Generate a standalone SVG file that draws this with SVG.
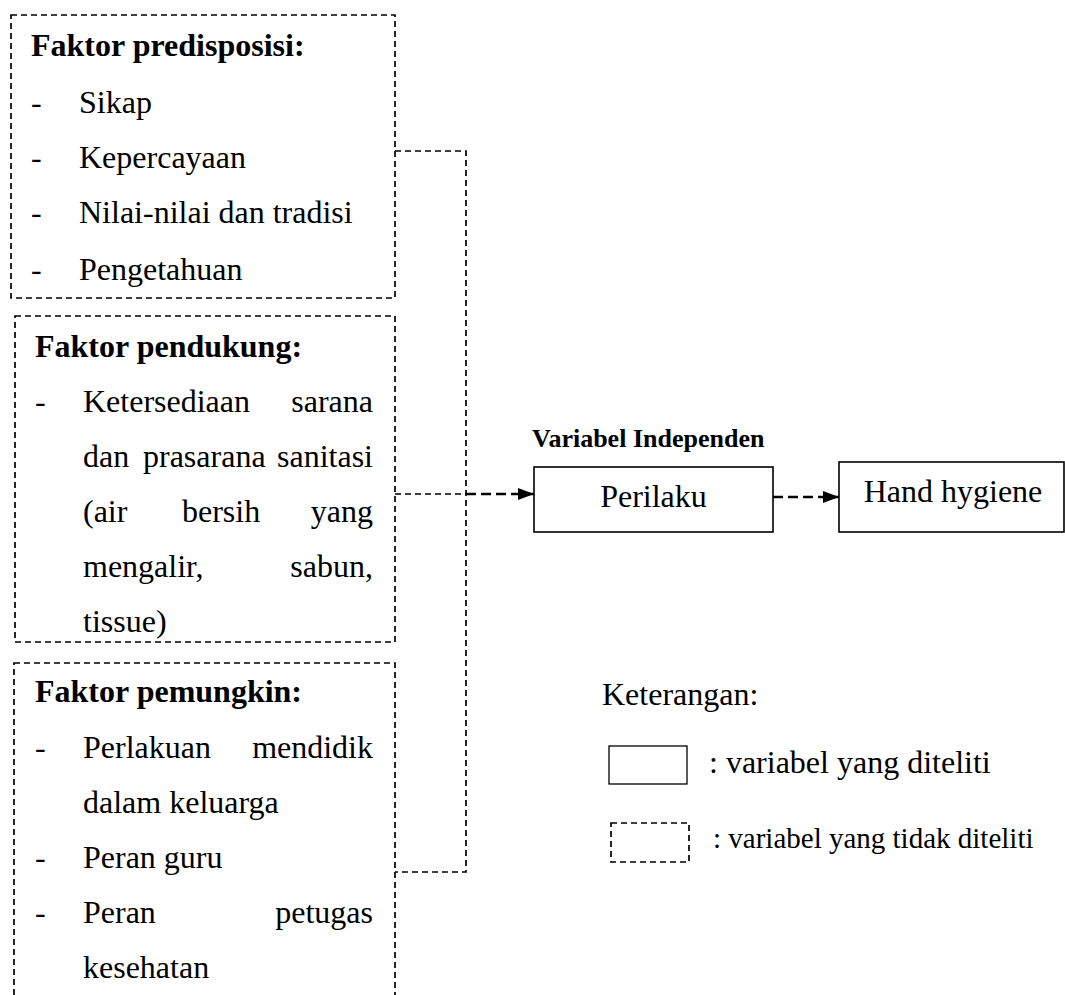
<svg xmlns="http://www.w3.org/2000/svg" width="1065" height="995" viewBox="0 0 1065 995">
<style>
text{font-family:"Liberation Serif","Times New Roman",serif;fill:#000}
.t{font-size:32px}
.h{font-size:32px;font-weight:bold}
.dbox{fill:none;stroke:#000;stroke-width:1.7;stroke-dasharray:6 4}
.sbox{fill:#fff;stroke:#000;stroke-width:1.6}
.thin{fill:none;stroke:#000;stroke-width:1.7;stroke-dasharray:6 4}
.thick{fill:none;stroke:#000;stroke-width:2.4;stroke-dasharray:10 5}
</style>
<defs>
<marker id="ah" viewBox="0 0 16 12" refX="16" refY="6" markerWidth="16" markerHeight="12" markerUnits="userSpaceOnUse" orient="auto">
<path d="M0,0 L16,6 L0,12 Z" fill="#000"/>
</marker>
</defs>
<rect width="1065" height="995" fill="#fff"/>
<g id="connectors">
<path class="thin" d="M395,151 H466 V872 H395"/>
<path class="thin" d="M395,494 H466"/>
<path class="thick" d="M466,494 H534" marker-end="url(#ah)"/>
<path class="thick" d="M773,497 H839" marker-end="url(#ah)"/>
</g>
<g id="faktor-predisposisi">
<rect class="dbox" x="11" y="15" width="384" height="283"/>
<text class="h" x="31" y="56">Faktor predisposisi:</text>
<text class="t" x="31" y="113">-</text><text class="t" x="79" y="113">Sikap</text>
<text class="t" x="31" y="168">-</text><text class="t" x="79" y="168">Kepercayaan</text>
<text class="t" x="31" y="223">-</text><text class="t" x="79" y="223">Nilai-nilai dan tradisi</text>
<text class="t" x="31" y="280">-</text><text class="t" x="79" y="280">Pengetahuan</text>
</g>
<g id="faktor-pendukung">
<rect class="dbox" x="15" y="316" width="380" height="326"/>
<text class="h" x="35" y="357">Faktor pendukung:</text>
<text class="t" x="35" y="412">-</text>
<text class="t" x="83" y="412">Ketersediaan</text><text class="t" x="373" y="412" text-anchor="end">sarana</text>
<text class="t" x="83" y="467">dan</text><text class="t" x="143" y="467">prasarana</text><text class="t" x="373" y="467" text-anchor="end">sanitasi</text>
<text class="t" x="83" y="522">(air</text><text class="t" x="182" y="522">bersih</text><text class="t" x="373" y="522" text-anchor="end">yang</text>
<text class="t" x="83" y="577">mengalir,</text><text class="t" x="373" y="577" text-anchor="end">sabun,</text>
<text class="t" x="83" y="632">tissue)</text>
</g>
<g id="faktor-pemungkin">
<rect class="dbox" x="14" y="663" width="381" height="345"/>
<text class="h" x="35" y="702">Faktor pemungkin:</text>
<text class="t" x="35" y="758">-</text>
<text class="t" x="83" y="758">Perlakuan</text><text class="t" x="373" y="758" text-anchor="end">mendidik</text>
<text class="t" x="83" y="813">dalam keluarga</text>
<text class="t" x="35" y="868">-</text><text class="t" x="83" y="868">Peran guru</text>
<text class="t" x="35" y="923">-</text>
<text class="t" x="83" y="923">Peran</text><text class="t" x="373" y="923" text-anchor="end">petugas</text>
<text class="t" x="83" y="978">kesehatan</text>
</g>
<g id="perilaku">
<text x="532" y="447" style="font-size:26px;font-weight:bold">Variabel Independen</text>
<rect class="sbox" x="534" y="467" width="239" height="65"/>
<text class="t" x="653.5" y="507" text-anchor="middle">Perilaku</text>
</g>
<g id="hand-hygiene">
<rect class="sbox" x="839" y="462" width="225" height="70"/>
<text class="t" x="953" y="502" text-anchor="middle">Hand hygiene</text>
</g>
<g id="legend">
<text class="t" x="602" y="705">Keterangan:</text>
<rect x="609" y="746" width="78" height="38" fill="none" stroke="#000" stroke-width="1.3"/>
<text class="t" x="709" y="773">: variabel yang diteliti</text>
<rect class="dbox" x="611" y="823" width="78" height="39"/>
<text x="713" y="848" style="font-size:29px">: variabel yang tidak diteliti</text>
</g>
</svg>
